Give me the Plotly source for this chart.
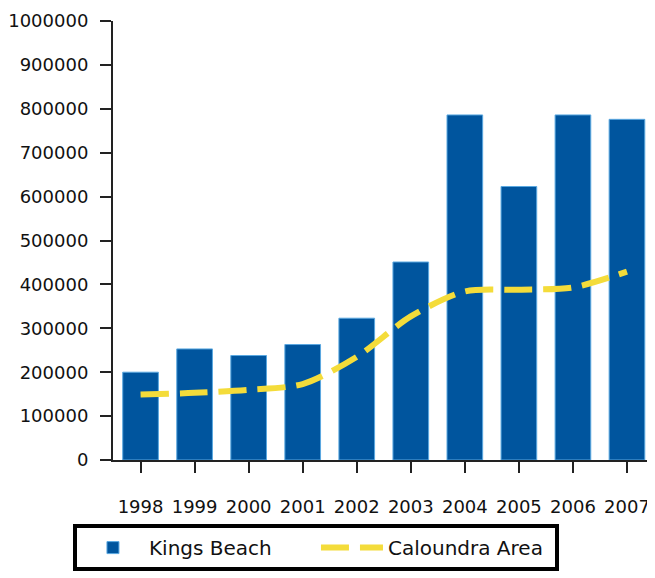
import plotly.graph_objects as go

years = ["1998", "1999", "2000", "2001", "2002", "2003", "2004", "2005", "2006", "2007"]
kings_beach = [200000, 253000, 238000, 263000, 323000, 451000, 786000, 623000, 786000, 776000]
caloundra_area = [149000, 153000, 160000, 173000, 235000, 327000, 384000, 388000, 393000, 429000]
y_ticks = [0, 100000, 200000, 300000, 400000, 500000, 600000, 700000, 800000, 900000, 1000000]

fig = go.Figure()
fig.add_trace(go.Bar(
    x=years, y=kings_beach, name="Kings Beach",
    marker=dict(color="#00559e", line=dict(color="#5aa8e0", width=1)),
    width=0.66,
))
fig.add_trace(go.Scatter(
    x=years, y=caloundra_area, name="Caloundra Area", mode="lines",
    line=dict(color="#f4dc3a", width=6, dash="28px,11px", shape="spline", smoothing=0.8),
))

fig.update_layout(
    width=647, height=570,
    margin=dict(l=105, r=1, t=13, b=118, autoexpand=False),
    paper_bgcolor="white", plot_bgcolor="white",
    font=dict(family="DejaVu Sans", size=18, color="#111"),
    showlegend=True,
    legend=dict(
        orientation="h", x=-0.074, y=-0.146, xanchor="left", yanchor="top",
        bordercolor="black", borderwidth=4, bgcolor="white",
        font=dict(family="DejaVu Sans", size=20, color="#111"),
        entrywidth=162, itemwidth=62, traceorder="normal",
    ),
    xaxis=dict(
        type="category", range=[-0.51, 9.5], automargin=False,
        showline=True, linecolor="#222", linewidth=2,
        ticks="outside", ticklen=11, tickwidth=2, tickcolor="#222",
        ticklabelstandoff=18, showgrid=False, zeroline=False,
        ticklabeloverflow="allow",
        tickfont=dict(family="DejaVu Sans", size=18, color="#111"),
    ),
    yaxis=dict(
        range=[0, 1000000], tickvals=y_ticks, ticktext=[str(v) for v in y_ticks],
        automargin=False,
        showline=True, linecolor="#222", linewidth=2,
        ticks="outside", ticklen=11, tickwidth=2, tickcolor="#222",
        ticklabelstandoff=8, showgrid=False, zeroline=False,
        ticklabeloverflow="allow",
        tickfont=dict(family="DejaVu Sans", size=18, color="#111"),
    ),
)

fig.write_html("out.html")
